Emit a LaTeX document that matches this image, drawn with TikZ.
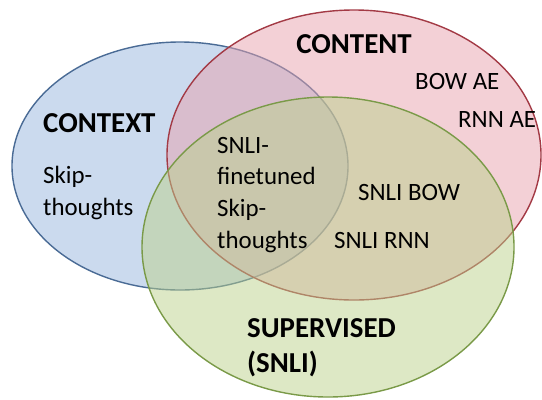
\documentclass[tikz,border=0pt]{standalone}
\usepackage{fontspec}
\setmainfont{Carlito}
\usepackage{tikz}
\definecolor{ctxBlue}{HTML}{97B5DD}
\definecolor{ctxLine}{HTML}{4A6B95}
\definecolor{cntRed}{HTML}{E7A1AD}
\definecolor{cntLine}{HTML}{A33A45}
\definecolor{supGreen}{HTML}{BBD18B}
\definecolor{supLine}{HTML}{7A9A48}
\begin{document}
\begin{tikzpicture}[x=1bp,y=-1bp,
    set/.style={line width=1.4bp,fill opacity=0.5},
    title/.style={font=\fontsize{29}{35}\selectfont\bfseries,inner sep=0pt,align=left},
    item/.style={font=\fontsize{25}{31.7}\selectfont,inner sep=0pt,align=left}]
    \useasboundingbox (0,0) rectangle (542,399);
    % the three sets
    \filldraw[set,fill=ctxBlue,draw=ctxLine] (180,166) ellipse [x radius=168,y radius=124];
    \filldraw[set,fill=cntRed,draw=cntLine] (354,155) ellipse [x radius=187,y radius=145];
    \filldraw[set,fill=supGreen,draw=supLine] (328,247) ellipse [x radius=186,y radius=150];
    % labels (base anchor = last line)
    \node[title,anchor=base] (content) at (354,53) {CONTENT};
    \node[title,anchor=base west] (context) at (43,132) {CONTEXT};
    \node[title,anchor=base west] (supervised) at (247,372) {SUPERVISED\\(SNLI)};
    \node[item,anchor=base west] (bowae) at (415,89) {BOW AE};
    \node[item,anchor=base west] (rnnae) at (458,127) {RNN AE};
    \node[item,anchor=base west] (skip) at (43,215) {Skip-\\thoughts};
    \node[item,anchor=base west] (finetuned) at (217,248) {SNLI-\\finetuned\\Skip-\\thoughts};
    \node[item,anchor=base west] (snlibow) at (358,200) {SNLI BOW};
    \node[item,anchor=base west] (snlirnn) at (334,248) {SNLI RNN};
  \end{tikzpicture}
\end{document}
